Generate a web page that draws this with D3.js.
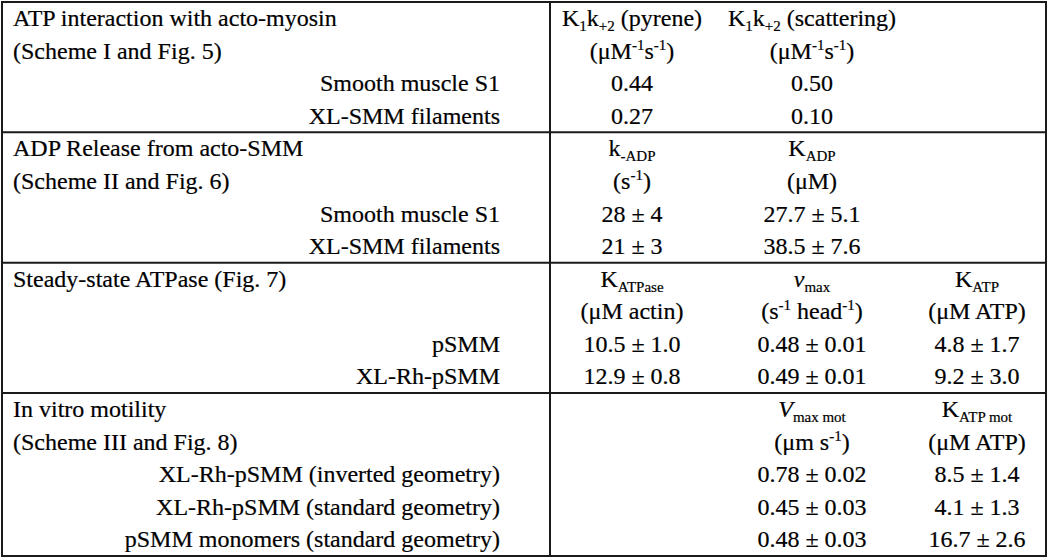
<!DOCTYPE html>
<html>
<head>
<meta charset="utf-8">
<script src="https://cdn.jsdelivr.net/npm/d3@7"></script>
<style>
  body { margin: 0; background: #fff; }
  text { font-family: "Liberation Serif", "Times New Roman", serif; fill: #000; stroke: #000; stroke-width: 0.2px; }
</style>
</head>
<body>
<div id="table"></div>
<script>
const WIDTH = 1050;
const HEIGHT = 559;

// section titles and row labels
const titles = ["ATP interaction with acto-myosin", "ADP Release from acto-SMM", "Steady-state ATPase (Fig. 7)", "In vitro motility"];
const subtitles = ["(Scheme I and Fig. 5)", "(Scheme II and Fig. 6)", "", "(Scheme III and Fig. 8)"];
const atpRows = ["Smooth muscle S1", "XL-SMM filaments"];
const adpRows = ["Smooth muscle S1", "XL-SMM filaments"];
const atpaseRows = ["pSMM", "XL-Rh-pSMM"];
const motilityRows = ["XL-Rh-pSMM (inverted geometry)", "XL-Rh-pSMM (standard geometry)", "pSMM monomers (standard geometry)"];

// values
const atpPyrene = ["0.44", "0.27"];
const atpScatter = ["0.50", "0.10"];
const adpKoff = ["28 ± 4", "21 ± 3"];
const adpKd = ["27.7 ± 5.1", "38.5 ± 7.6"];
const atpaseKactin = ["10.5 ± 1.0", "12.9 ± 0.8"];
const atpaseVmax = ["0.48 ± 0.01", "0.49 ± 0.01"];
const atpaseKatp = ["4.8 ± 1.7", "9.2 ± 3.0"];
const motVmax = ["0.78 ± 0.02", "0.45 ± 0.03", "0.48 ± 0.03"];
const motKatp = ["8.5 ± 1.4", "4.1 ± 1.3", "16.7 ± 2.6"];

// column headers: [text, kind] pieces
const hK1k2pyr = [["K"], ["1", "sub"], ["k"], ["+2", "sub"], [" (pyrene)"]];
const hK1k2sca = [["K"], ["1", "sub"], ["k"], ["+2", "sub"], [" (scattering)"]];
const uPerMs = [["(μM"], ["-1", "sup"], ["s"], ["-1", "sup"], [")"]];
const hKoff = [["k"], ["-ADP", "sub"]];
const uPerS = [["(s"], ["-1", "sup"], [")"]];
const hKadp = [["K"], ["ADP", "sub"]];
const uMicroM = [["(μM)"]];
const hKatpase = [["K"], ["ATPase", "sub"]];
const uActin = [["(μM actin)"]];
const hVmax = [["v", "it"], ["max", "sub"]];
const uHead = [["(s"], ["-1", "sup"], [" head"], ["-1", "sup"], [")"]];
const hKatp = [["K"], ["ATP", "sub"]];
const uAtp = [["(μM ATP)"]];
const hVmot = [["V", "it"], ["max mot", "sub"]];
const uSpeed = [["(μm s"], ["-1", "sup"], [")"]];
const hKmot = [["K"], ["ATP mot", "sub"]];

const sections = [
  { rows: atpRows, cols: [
      { c: 0, head: hK1k2pyr, unit: uPerMs, vals: atpPyrene },
      { c: 1, head: hK1k2sca, unit: uPerMs, vals: atpScatter }] },
  { rows: adpRows, cols: [
      { c: 0, head: hKoff, unit: uPerS, vals: adpKoff },
      { c: 1, head: hKadp, unit: uMicroM, vals: adpKd }] },
  { rows: atpaseRows, cols: [
      { c: 0, head: hKatpase, unit: uActin, vals: atpaseKactin },
      { c: 1, head: hVmax, unit: uHead, vals: atpaseVmax },
      { c: 2, head: hKatp, unit: uAtp, vals: atpaseKatp }] },
  { rows: motilityRows, cols: [
      { c: 1, head: hVmot, unit: uSpeed, vals: motVmax },
      { c: 2, head: hKmot, unit: uAtp, vals: motKatp }] }
];

const LEFT = 2, RIGHT = 1046, TOP = 2, BOTTOM = 556;
const DIVIDER = 550;
const FONT = 24, SMALL = 15;

let rowStart = [];
let total = 0;
sections.forEach(function(s) { rowStart.push(total); total += 2 + s.rows.length; });

const yScale = d3.scaleLinear().domain([0, total]).range([TOP, BOTTOM]);
const xScale = d3.scaleOrdinal().domain([0, 1, 2]).range([632, 812, 977]);
const base = function(r) { return yScale(r) + 24; };

const svg = d3.select("#table").append("svg")
  .attr("width", WIDTH)
  .attr("height", HEIGHT);

// rich text with sub / sup pieces
var rich = function(sel, pieces) {
  let off = 0;
  pieces.forEach(function(p) {
    const kind = p[1] || "";
    const t = sel.append("tspan").text(p[0]);
    let target = 0;
    if (kind === "sub") { target = 5; t.attr("font-size", SMALL); }
    if (kind === "sup") { target = -9; t.attr("font-size", SMALL); }
    if (kind === "it") t.attr("font-style", "italic");
    t.attr("dy", target - off);
    off = target;
  });
};

sections.forEach(function(s, i) {
  const r0 = rowStart[i];
  const g = svg.append("g");

  g.append("text").attr("x", 13).attr("y", base(r0)).attr("font-size", FONT).text(titles[i]);
  if (subtitles[i]) g.append("text").attr("x", 13).attr("y", base(r0 + 1)).attr("font-size", FONT).text(subtitles[i]);

  g.selectAll(".label").data(s.rows).enter().append("text")
    .attr("x", 500)
    .attr("y", function(d, j) { return base(r0 + 2 + j); })
    .attr("text-anchor", "end")
    .attr("font-size", FONT)
    .text(function(d) { return d; });

  s.cols.forEach(function(col) {
    const x = xScale(col.c);
    g.append("text").attr("x", x).attr("y", base(r0)).attr("text-anchor", "middle")
      .attr("font-size", FONT).call(rich, col.head);
    g.append("text").attr("x", x).attr("y", base(r0 + 1)).attr("text-anchor", "middle")
      .attr("font-size", FONT).call(rich, col.unit);
    g.selectAll(".val").data(col.vals).enter().append("text")
      .attr("x", x)
      .attr("y", function(d, j) { return base(r0 + 2 + j); })
      .attr("text-anchor", "middle")
      .attr("font-size", FONT)
      .text(function(d) { return d; });
  });
});

// grid lines
svg.append("rect")
  .attr("x", LEFT).attr("y", TOP)
  .attr("width", RIGHT - LEFT).attr("height", BOTTOM - TOP)
  .attr("fill", "none").attr("stroke", "#1a1a1a").attr("stroke-width", 2);

svg.append("line")
  .attr("x1", DIVIDER).attr("x2", DIVIDER)
  .attr("y1", TOP).attr("y2", BOTTOM)
  .attr("stroke", "#1a1a1a").attr("stroke-width", 2);

svg.selectAll(".sep").data(rowStart.slice(1)).enter().append("line")
  .attr("x1", LEFT).attr("x2", RIGHT)
  .attr("y1", function(d) { return yScale(d); })
  .attr("y2", function(d) { return yScale(d); })
  .attr("stroke", "#1a1a1a").attr("stroke-width", 2);
</script>
</body>
</html>
